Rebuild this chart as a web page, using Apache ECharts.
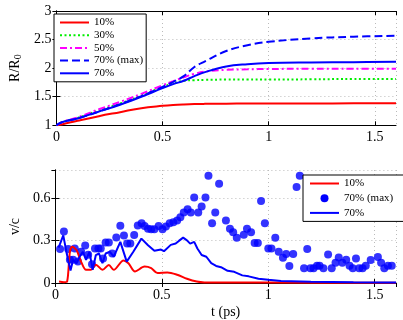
<!DOCTYPE html>
<html>
<head>
<meta charset="utf-8">
<script src="https://cdn.jsdelivr.net/npm/echarts@6/dist/echarts.min.js"></script>
<style>
  html, body { margin: 0; padding: 0; background: #fff; }
  #chart { width: 403px; height: 320px; }
</style>
</head>
<body>
<div id="chart"></div>
<script>
// upper panel: R/R0 against t (ps)
var tTop = [0, 0.03, 0.1, 0.2, 0.3, 0.4, 0.5, 0.55, 0.6, 0.65, 0.7, 0.8, 0.9, 1.0, 1.2, 1.4, 1.6];
var r10 = [1, 1.02, 1.08, 1.16, 1.23, 1.30, 1.34, 1.355, 1.365, 1.372, 1.375, 1.378, 1.38, 1.38, 1.382, 1.384, 1.386];
var r30 = [1, 1.06, 1.13, 1.26, 1.38, 1.52, 1.67, 1.73, 1.78, 1.79, 1.795, 1.80, 1.80, 1.80, 1.805, 1.81, 1.81];
var r50 = [1, 1.06, 1.14, 1.28, 1.41, 1.55, 1.70, 1.77, 1.84, 1.90, 1.94, 1.97, 1.98, 1.985, 1.99, 1.99, 1.99];
var r70max = [1, 1.06, 1.12, 1.24, 1.37, 1.51, 1.67, 1.76, 1.86, 2.02, 2.12, 2.30, 2.40, 2.46, 2.52, 2.55, 2.566];
var r70 = [1, 1.06, 1.12, 1.24, 1.36, 1.50, 1.65, 1.72, 1.78, 1.86, 1.93, 2.03, 2.07, 2.09, 2.10, 2.105, 2.11];

// lower panel: v/c against t (ps)
var tV10 = [0.017, 0.04, 0.055, 0.068, 0.079, 0.099, 0.121, 0.144, 0.167, 0.19, 0.221, 0.251, 0.274, 0.32, 0.343, 0.374, 0.419, 0.45, 0.48, 0.526, 0.572, 0.618, 0.664, 0.7, 1.0, 1.6];
var v10 = [0.01, 0.005, 0.01, 0.22, 0.256, 0.233, 0.15, 0.093, 0.093, 0.13, 0.093, 0.128, 0.093, 0.16, 0.14, 0.081, 0.116, 0.105, 0.07, 0.074, 0.058, 0.03, 0.01, 0.004, 0.003, 0.002];

var tV70 = [0.015, 0.037, 0.053, 0.071, 0.083, 0.099, 0.114, 0.129, 0.144, 0.16, 0.175, 0.19, 0.205, 0.221, 0.236, 0.256, 0.274, 0.305, 0.335, 0.366, 0.404, 0.435, 0.465, 0.496, 0.51, 0.542, 0.565, 0.58, 0.6, 0.618, 0.633, 0.652, 0.667, 0.687, 0.709, 0.732, 0.755, 0.778, 0.809, 0.84, 0.878, 0.908, 0.954, 1.0, 1.06, 1.2, 1.4, 1.6];
var v70 = [0.25, 0.337, 0.21, 0.089, 0.163, 0.14, 0.186, 0.221, 0.163, 0.221, 0.093, 0.198, 0.209, 0.14, 0.209, 0.221, 0.186, 0.291, 0.151, 0.221, 0.314, 0.267, 0.228, 0.237, 0.225, 0.27, 0.279, 0.298, 0.321, 0.302, 0.279, 0.291, 0.244, 0.198, 0.186, 0.14, 0.121, 0.112, 0.086, 0.079, 0.054, 0.047, 0.03, 0.023, 0.015, 0.008, 0.005, 0.004];

var tMax = [0.022, 0.040, 0.060, 0.068, 0.083, 0.091, 0.106, 0.121, 0.140, 0.154, 0.172, 0.186, 0.202, 0.213, 0.224, 0.236, 0.251, 0.267, 0.286, 0.305, 0.322, 0.337, 0.352, 0.37, 0.387, 0.405, 0.419, 0.435, 0.45, 0.465, 0.485, 0.503, 0.519, 0.537, 0.554, 0.572, 0.587, 0.603, 0.621, 0.636, 0.652, 0.671, 0.687, 0.705, 0.719, 0.736, 0.751, 0.769, 0.801, 0.82, 0.835, 0.852, 0.885, 0.9, 0.919, 0.936, 0.951, 0.966, 0.984, 1.0, 1.015, 1.033, 1.049, 1.069, 1.084, 1.099, 1.117, 1.133, 1.148, 1.168, 1.183, 1.198, 1.213, 1.229, 1.241, 1.259, 1.281, 1.298, 1.316, 1.331, 1.348, 1.366, 1.382, 1.397, 1.412, 1.427, 1.443, 1.458, 1.481, 1.515, 1.53, 1.545, 1.562, 1.58];
var vMax = [0.24, 0.365, 0.24, 0.165, 0.165, 0.244, 0.153, 0.222, 0.265, 0.2, 0.133, 0.244, 0.244, 0.244, 0.174, 0.286, 0.286, 0.209, 0.323, 0.405, 0.337, 0.28, 0.28, 0.34, 0.407, 0.423, 0.403, 0.384, 0.38, 0.38, 0.403, 0.38, 0.4, 0.423, 0.43, 0.442, 0.465, 0.5, 0.523, 0.5, 0.605, 0.5, 0.542, 0.605, 0.76, 0.423, 0.5, 0.703, 0.442, 0.384, 0.36, 0.32, 0.342, 0.384, 0.36, 0.284, 0.284, 0.581, 0.423, 0.244, 0.244, 0.32, 0.221, 0.179, 0.205, 0.121, 0.205, 0.68, 0.76, 0.105, 0.24, 0.105, 0.105, 0.123, 0.123, 0.105, 0.202, 0.105, 0.144, 0.181, 0.144, 0.165, 0.123, 0.105, 0.174, 0.105, 0.105, 0.123, 0.163, 0.184, 0.144, 0.105, 0.123, 0.123];

function pairs(xs, ys) {
  return xs.map(function (x, i) { return [x, ys[i]]; });
}

var FONT = 'Liberation Serif';
var chart = echarts.init(document.getElementById('chart'));

// axis helpers (matlab-like boxed axes, ticks inside)
function mainX(grid, name) {
  return {
    type: 'value', gridIndex: grid, min: 0, max: 1.6, interval: 0.5,
    name: name || '', nameLocation: 'middle', nameGap: 22,
    nameTextStyle: { fontFamily: FONT, fontSize: 14, color: '#000' },
    axisLine: { lineStyle: { color: '#000', width: 1 } },
    axisTick: { inside: true, length: 4, lineStyle: { color: '#000' } },
    axisLabel: { fontFamily: FONT, fontSize: 14, color: '#000', margin: 5, showMaxLabel: false },
    splitLine: { show: true, lineStyle: { color: '#bbb', type: [1, 3] } }
  };
}
function mirrorX(grid) {
  return {
    type: 'value', gridIndex: grid, position: 'top', min: 0, max: 1.6, interval: 0.5,
    axisLine: { lineStyle: { color: '#000', width: 1 } },
    axisTick: { inside: true, length: 4, lineStyle: { color: '#000' } },
    axisLabel: { show: false }, splitLine: { show: false }
  };
}
function mainY(grid, min, max, step, name, gap, hideMax) {
  return {
    type: 'value', gridIndex: grid, min: min, max: max, interval: step,
    name: name, nameLocation: 'middle', nameGap: gap,
    nameTextStyle: {
      fontFamily: FONT, fontSize: 14, color: '#000',
      rich: { s: { fontFamily: FONT, fontSize: 10, color: '#000', verticalAlign: 'bottom', padding: [6, 0, 0, 0] } }
    },
    axisLine: { lineStyle: { color: '#000', width: 1 } },
    axisTick: { inside: true, length: 4, lineStyle: { color: '#000' } },
    axisLabel: { fontFamily: FONT, fontSize: 14, color: '#000', margin: 5, showMaxLabel: !hideMax },
    splitLine: { show: true, lineStyle: { color: '#bbb', type: [1, 3] } }
  };
}
function mirrorY(grid, min, max, step) {
  return {
    type: 'value', gridIndex: grid, position: 'right', min: min, max: max, interval: step,
    axisLine: { lineStyle: { color: '#000', width: 1 } },
    axisTick: { inside: true, length: 4, lineStyle: { color: '#000' } },
    axisLabel: { show: false }, splitLine: { show: false }
  };
}
function curve(name, data, color, type, xi, yi, smooth) {
  return {
    name: name, type: 'line', xAxisIndex: xi, yAxisIndex: yi,
    data: data, symbol: 'none', smooth: smooth, animation: false,
    lineStyle: { color: color, width: 2, type: type },
    itemStyle: { color: color }
  };
}

var legendText = { fontFamily: FONT, fontSize: 11, color: '#000' };

var option = {
  backgroundColor: '#fff',
  animation: false,
  grid: [
    { left: 48.5, right: 7, top: 11, height: 114.3 },
    { left: 48.5, right: 7, top: 170, height: 115 }
  ],
  legend: [
    {
      orient: 'vertical', left: 54, top: 14,
      data: ['10%', '30%', '50%', '70% (max)', '70%'],
      itemWidth: 29, itemHeight: 10, itemGap: 1.7,
      padding: [3, 3, 3, 5],
      borderColor: '#000', borderWidth: 1, backgroundColor: '#fff',
      itemStyle: { opacity: 0 },
      textStyle: legendText
    },
    {
      orient: 'vertical', left: 303, top: 175,
      data: [
        '10% ',
        { name: '70% (max) ', icon: 'circle', itemStyle: { opacity: 1, color: '#0000ff' } },
        '70% '
      ],
      itemWidth: 29, itemHeight: 8, itemGap: 3.7,
      padding: [3, 8, 3, 6],
      borderColor: '#000', borderWidth: 1, backgroundColor: '#fff',
      itemStyle: { opacity: 0 },
      textStyle: legendText
    }
  ],
  xAxis: [mainX(0), mirrorX(0), mainX(1, 't (ps)'), mirrorX(1)],
  yAxis: [
    mainY(0, 1, 3, 0.5, 'R/R{s|0}', 30, false),
    mirrorY(0, 1, 3, 0.5),
    mainY(1, 0, 0.8, 0.3, 'v/c', 30, true),
    mirrorY(1, 0, 0.8, 0.3)
  ],
  series: [
    curve('10%', pairs(tTop, r10), '#ff0000', 'solid', 0, 0, 0.4),
    curve('30%', pairs(tTop, r30), '#00ee00', [2, 2.5], 0, 0, 0.4),
    curve('50%', pairs(tTop, r50), '#ff00ff', [7, 3, 2, 3], 0, 0, 0.4),
    curve('70% (max)', pairs(tTop, r70max), '#0000ff', [8, 4], 0, 0, 0.4),
    curve('70%', pairs(tTop, r70), '#0000ff', 'solid', 0, 0, 0.4),
    curve('10% ', pairs(tV10, v10), '#ff0000', 'solid', 2, 2, 0.3),
    {
      name: '70% (max) ', type: 'scatter', xAxisIndex: 2, yAxisIndex: 2,
      data: pairs(tMax, vMax), symbol: 'circle', symbolSize: 8,
      itemStyle: { color: '#0000ff' }, animation: false
    },
    curve('70% ', pairs(tV70, v70), '#0000ff', 'solid', 2, 2, false)
  ]
};
chart.setOption(option);
</script>
</body>
</html>
